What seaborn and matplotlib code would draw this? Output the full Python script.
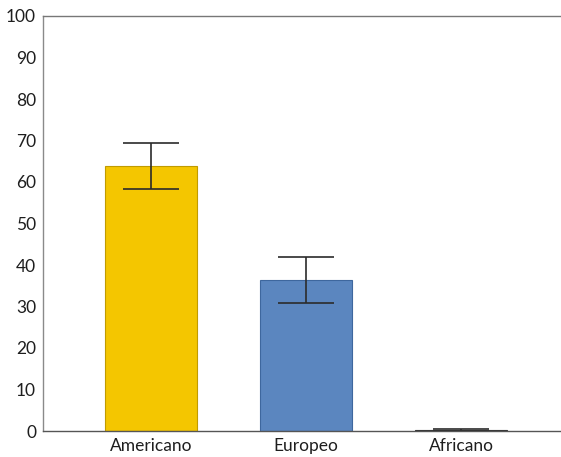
import matplotlib
matplotlib.use("Agg")
import matplotlib.pyplot as plt
import seaborn as sns
import pandas as pd

# Mean share per origin group with its standard deviation
categories = ["Americano", "Europeo", "Africano"]
means = [63.8, 36.4, 0.3]
errors = [5.6, 5.6, 0.3]
bar_colors = ["#F4C600", "#5B86BF", "#555555"]
edge_colors = ["#C09B00", "#3E679E", "#333333"]
y_ticks = [0, 10, 20, 30, 40, 50, 60, 70, 80, 90, 100]

sns.set_theme(style="white")
plt.rcParams["font.family"] = ["Lato", "DejaVu Sans"]

df = pd.DataFrame({"origen": categories, "valor": means})

fig = plt.figure(figsize=(5.61, 4.57), dpi=100)
ax = fig.add_axes([43 / 561, 26 / 457, 518 / 561, 415 / 457])

sns.barplot(data=df, x="origen", y="valor", hue="origen",
            palette=bar_colors, saturation=1, width=0.59, legend=False,
            errorbar=None, ax=ax)
for patch, ec in zip(ax.patches, edge_colors):
    patch.set_edgecolor(ec)
    patch.set_linewidth(0.8)

ax.errorbar(x=range(len(categories)), y=means, yerr=errors, fmt="none",
            ecolor="#2b2b2b", elinewidth=1.2, capsize=20, capthick=1.2)

ax.set_ylim(0, 100)
ax.set_xlim(-0.697, 2.645)
ax.set_yticks(y_ticks)
ax.set_xlabel("")
ax.set_ylabel("")
ax.tick_params(axis="y", direction="in", length=5, width=0.8, color="#888888",
               labelsize=12.5, pad=5, labelcolor="#1e1e1e")
ax.tick_params(axis="x", length=0, labelsize=12.5, pad=5, labelcolor="#1e1e1e")

for side in ["left", "top", "bottom"]:
    ax.spines[side].set_visible(True)
    ax.spines[side].set_linewidth(1.0)
ax.spines["left"].set_color("#8a8a8a")
ax.spines["top"].set_color("#777777")
ax.spines["bottom"].set_color("#555555")
ax.spines["right"].set_visible(False)

fig.savefig("out.png", dpi=100)
